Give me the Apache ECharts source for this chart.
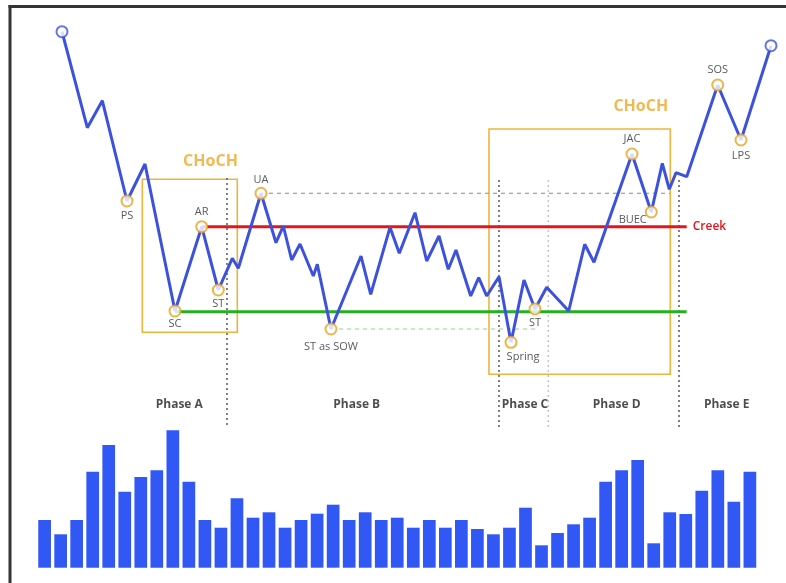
<!DOCTYPE html>
<html><head><meta charset="utf-8">
<script src="https://cdn.jsdelivr.net/npm/echarts@6/dist/echarts.min.js"></script>
<style>html,body{margin:0;padding:0;background:#fff}#c{width:786px;height:583px}</style>
</head><body><div id="c"></div>
<script>
// ---- Price path (time units, price units) ----
const priceX = [62, 87.3, 102.3, 127, 145, 175, 201.7, 218.3, 232.3, 238.3, 261, 276, 283.3, 291.7, 300, 313.3, 317.3, 331, 361, 370.7, 390, 399.3, 415, 426.7, 439, 448.3, 456, 470.7, 478.7, 486.7, 499, 511, 524, 535, 546.7, 568.7, 584.7, 594, 632, 651.3, 662.3, 669.3, 676, 686.7, 717.7, 741, 771];
const priceY = [551.3, 455.3, 482.3, 382, 419, 272, 356.3, 293, 324.7, 314.7, 389.7, 340.3, 357, 323, 339, 307, 318.7, 254, 327, 288.7, 355.7, 329.7, 370.3, 322, 347, 313.7, 333, 287, 305.3, 287, 306.3, 240.7, 303, 274, 295.7, 272, 338.7, 320.7, 429, 371, 419.7, 393.7, 410.3, 406.3, 498, 443, 537.3];

// ---- Wyckoff events (index into price path) ----
const eventNames = ['PS', 'SC', 'AR', 'ST', 'UA', 'ST as SOW', 'Spring', 'ST', 'JAC', 'BUEC', 'SOS', 'LPS'];
const eventIdx = [3, 5, 6, 7, 10, 17, 31, 33, 38, 39, 44, 45];

// ---- Levels ----
const creekLevel = 356.3, creekFrom = 201.7, creekTo = 686.7;
const supportLevel = 271.3, supportFrom = 175, supportTo = 686.7;
const uaLevel = 389.7, uaFrom = 261, uaTo = 670;
const sowLevel = 254, sowFrom = 331, sowTo = 537;

// ---- Phase dividers ----
const dividerX = [227, 499, 548.3, 679];
const dividerTop = [405, 403, 403, 403];
const dividerBottom = 155;

// ---- Phase labels ----
const phaseNames = ['Phase A', 'Phase B', 'Phase C', 'Phase D', 'Phase E'];
const phaseX = [179.3, 356.7, 525, 616.7, 726.7];
const phaseY = 178.5;

// ---- CHoCH boxes ----
const boxX1 = [142.3, 489], boxX2 = [237.3, 670.3];
const boxTop = [403.7, 454], boxBottom = [250.7, 208.7];
const chochX = [210.5, 640.8], chochY = [422, 477];

// ---- Volume ----
const volume = [47.7, 33.4, 47.7, 96, 122.7, 76, 90.7, 97.4, 137.4, 86, 47.7, 40, 69.4, 50, 55.4, 40, 47.7, 54, 63, 47.7, 55.4, 47.7, 50, 40, 47.7, 40, 47.7, 38.7, 33.4, 40, 60, 22.4, 34.7, 43.4, 50, 86, 97.4, 107.7, 24.4, 55.4, 53.7, 77, 97.4, 66, 96];

const FONT = 'Open Sans';
const BLUE = '#3d52dc', ORANGE = '#e6a21c', TEXT = '#2c2f35';

const labelStyle = {
  'PS': {position: 'bottom', distance: 3},
  'SC': {position: 'bottom', distance: 1},
  'AR': {position: 'top', distance: 3},
  'ST': {position: 'bottom', distance: 2},
  'UA': {position: 'top', distance: 1},
  'ST as SOW': {position: 'bottom', distance: 6},
  'Spring': {position: 'bottom', distance: 3, offset: [12, 0]},
  'JAC': {position: 'top', distance: 3},
  'BUEC': {position: 'left', distance: 0, offset: [2, 8]},
  'SOS': {position: 'top', distance: 3},
  'LPS': {position: 'bottom', distance: 4}
};

const pricePath = priceX.map((x, i) => [x, priceY[i]]);
const endPoints = [pricePath[0], pricePath[pricePath.length - 1]];
const events = eventIdx.map((k, i) => ({
  value: pricePath[k], name: eventNames[i],
  label: Object.assign({show: true, formatter: eventNames[i], color: TEXT, fontSize: 11, fontWeight: 500, fontFamily: FONT}, labelStyle[eventNames[i]])
}));

const series = [];
// boxes
series.push({
  type: 'line', xAxisIndex: 0, yAxisIndex: 0, data: [], z: 1,
  markArea: {silent: true, itemStyle: {color: 'rgba(0,0,0,0)', borderColor: '#efb43c', borderWidth: 1.6},
    data: boxX1.map((x, i) => [{coord: [x, boxTop[i]]}, {coord: [boxX2[i], boxBottom[i]]}])}
});
// dividers
dividerX.forEach((x, i) => series.push({
  type: 'line', xAxisIndex: 0, yAxisIndex: 0, z: 2, symbol: 'none', silent: true,
  data: [[x, dividerTop[i]], [x, dividerBottom]],
  lineStyle: {color: i === 2 ? '#c4c4c4' : '#55585e', width: 1.5, type: [2, 3]}
}));
// dashed levels
series.push({type: 'line', z: 3, symbol: 'none', silent: true, data: [[uaFrom, uaLevel], [uaTo, uaLevel]],
  lineStyle: {color: '#a89c90', width: 1.2, type: [4, 4]}});
series.push({type: 'line', z: 3, symbol: 'none', silent: true, data: [[sowFrom, sowLevel], [sowTo, sowLevel]],
  lineStyle: {color: '#bfe3b8', width: 1.6, type: [4, 4]}});
// creek & support
series.push({type: 'line', z: 4, symbol: 'none', silent: true, data: [[creekFrom, creekLevel], [creekTo, creekLevel]],
  lineStyle: {color: '#e3161d', width: 3},
  endLabel: {show: true, formatter: 'Creek', color: '#e3161d', fontSize: 12, fontWeight: 600, fontFamily: FONT, distance: 6}});
series.push({type: 'line', z: 4, symbol: 'none', silent: true, data: [[supportFrom, supportLevel], [supportTo, supportLevel]],
  lineStyle: {color: '#25b022', width: 3}});
// price path
series.push({type: 'line', z: 5, symbol: 'none', data: pricePath, lineStyle: {color: BLUE, width: 3}});
// endpoints
series.push({type: 'scatter', z: 6, data: endPoints, symbol: 'circle', symbolSize: 11,
  itemStyle: {color: '#fff', borderColor: BLUE, borderWidth: 2}});
// events
series.push({type: 'scatter', z: 7, data: events, symbol: 'circle', symbolSize: 11,
  itemStyle: {color: '#fff', borderColor: ORANGE, borderWidth: 2}});
// phase labels
series.push({type: 'scatter', z: 8, symbolSize: 0, silent: true,
  data: phaseX.map((x, i) => ({value: [x, phaseY], name: phaseNames[i]})),
  label: {show: true, position: 'inside', formatter: p => p.name, color: '#1e1f22', fontSize: 12, fontWeight: 'bold', fontFamily: FONT}});
// CHoCH labels
series.push({type: 'scatter', z: 8, symbolSize: 0, silent: true,
  data: chochX.map((x, i) => ({value: [x, chochY[i]], name: 'CHoCH'})),
  label: {show: true, position: 'inside', formatter: 'CHoCH', color: '#f0a826', fontSize: 16, fontWeight: 'bold', fontFamily: FONT}});
// volume
series.push({type: 'bar', xAxisIndex: 1, yAxisIndex: 1, data: volume, barWidth: 12.7,
  itemStyle: {color: '#3157f4'}});

const chart = echarts.init(document.getElementById('c'), null, {renderer: 'canvas'});
chart.setOption({
  animation: false,
  backgroundColor: '#fff',
  grid: [
    {left: 0, right: 0, top: 0, bottom: 0},
    {left: 36.6, right: 28.1, top: 427.7, height: 140}
  ],
  xAxis: [
    {type: 'value', gridIndex: 0, min: 0, max: 786, show: false},
    {type: 'category', gridIndex: 1, data: volume.map((v, i) => i + 1), show: false}
  ],
  yAxis: [
    {type: 'value', gridIndex: 0, min: 0, max: 583, show: false},
    {type: 'value', gridIndex: 1, min: 0, max: 140, show: false}
  ],
  graphic: [
    {type: 'rect', shape: {x: 8.5, y: 5, width: 3, height: 578}, style: {fill: '#353535'}},
    {type: 'rect', shape: {x: 8.5, y: 5, width: 778, height: 3}, style: {fill: '#353535'}}
  ],
  series: series
});
</script></body></html>
